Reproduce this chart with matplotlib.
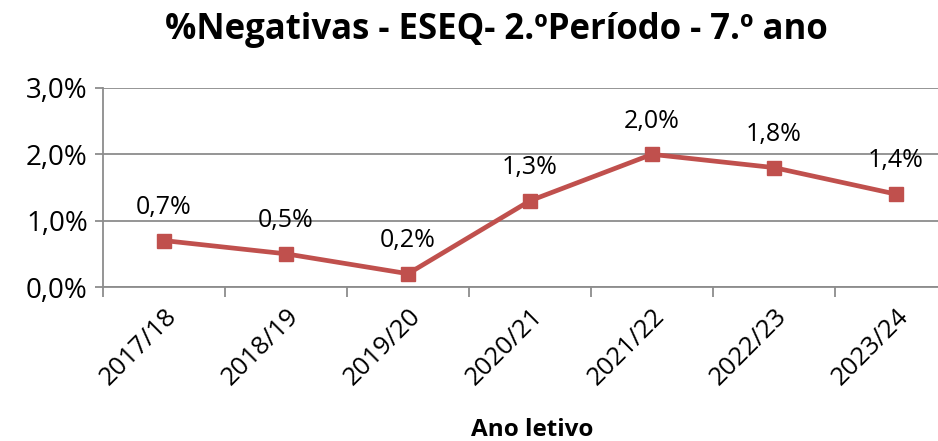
import matplotlib

matplotlib.use("Agg")
import matplotlib.pyplot as plt
from matplotlib.ticker import FuncFormatter

plt.rcParams["font.family"] = ["Open Sans", "DejaVu Sans"]

anos = ["2017/18", "2018/19", "2019/20", "2020/21", "2021/22", "2022/23", "2023/24"]
negativas = [0.7, 0.5, 0.2, 1.3, 2.0, 1.8, 1.4]  # percent

cor = "#C0504D"
cinza = "#8C8C8C"

fig = plt.figure(figsize=(9.38, 4.41), dpi=100)
ax = fig.add_axes([103 / 938, 154 / 441, 854 / 938, 199 / 441])

x = range(len(anos))
ax.plot(x, negativas, color=cor, lw=3.4, marker="s", ms=10.5, zorder=3)
for i, v in zip(x, negativas):
    ax.annotate(f"{v:.1f}%".replace(".", ","), (i, v), xytext=(0, 15),
                textcoords="offset points", ha="center", va="bottom", fontsize=18)

ax.set_xlim(-0.5, len(anos) - 0.5)
ax.set_ylim(0, 3)
ax.set_yticks([0, 1, 2, 3])
ax.yaxis.set_major_formatter(FuncFormatter(lambda v, _: f"{v:.1f}%".replace(".", ",")))
ax.set_xticks([i - 0.5 for i in range(len(anos) + 1)])
ax.set_xticklabels([])
ax.set_xticks(list(x), minor=True)
ax.set_xticklabels(anos, minor=True, rotation=45, ha="right", rotation_mode="anchor", fontsize=18.5)
ax.tick_params(axis="x", which="major", length=7, color=cinza, width=1.3)
ax.tick_params(axis="x", which="minor", length=0, pad=12)
ax.tick_params(axis="y", length=6, color=cinza, width=1.3, labelsize=20, pad=5)

ax.grid(axis="y", color=cinza, lw=1.3)
ax.set_axisbelow(True)
for s in ("top", "right"):
    ax.spines[s].set_visible(False)
for s in ("left", "bottom"):
    ax.spines[s].set_color(cinza)
    ax.spines[s].set_linewidth(1.3)

fig.text(496 / 938, 1 - 30 / 441, "%Negativas - ESEQ- 2.ºPeríodo - 7.º ano",
         ha="center", va="center", fontsize=25, fontweight="bold")
fig.text(532 / 938, 1 - 430 / 441, "Ano letivo", ha="center", va="center",
         fontsize=17.5, fontweight="bold")

fig.savefig("out.png", dpi=100)
